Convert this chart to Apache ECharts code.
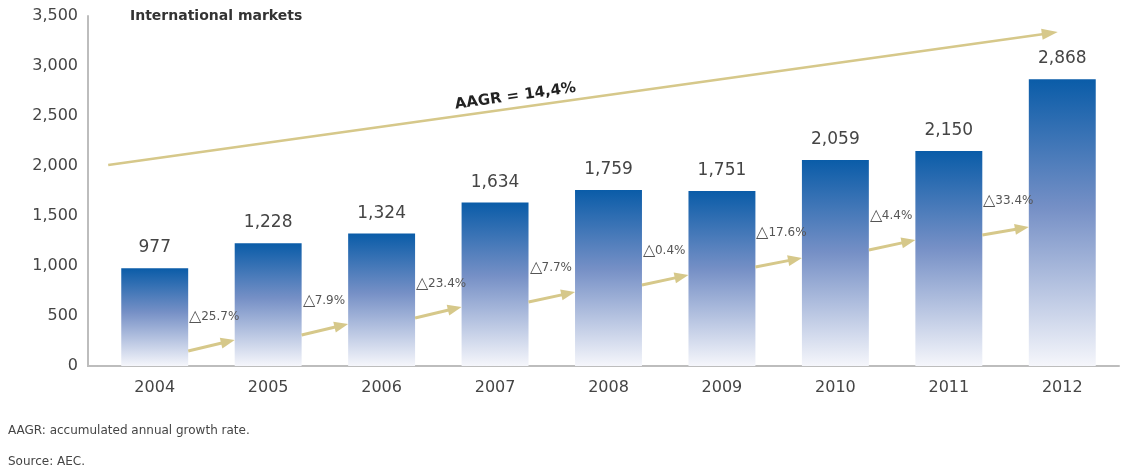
<!DOCTYPE html>
<html>
<head>
<meta charset="utf-8">
<script src="https://cdn.jsdelivr.net/npm/echarts@6/dist/echarts.min.js"></script>
<style>
  html, body { margin: 0; padding: 0; background: #fff; }
  #main { width: 1126px; height: 474px; }
</style>
</head>
<body>
<div id="main"></div>
<script>
// 数据
var years = ['2004', '2005', '2006', '2007', '2008', '2009', '2010', '2011', '2012'];
var markets = [977, 1228, 1324, 1634, 1759, 1751, 2059, 2150, 2868];
var deltaLabels = ['25.7%', '7.9%', '23.4%', '7.7%', '0.4%', '17.6%', '4.4%', '33.4%'];
var arrowFrom = [150, 310, 480, 640, 810, 990, 1160, 1310];   // 小箭头起点高度
var arrowTo = [260, 420, 590, 740, 910, 1080, 1260, 1390];    // 小箭头终点高度
var aagrFrom = 2010, aagrTo = 3340;
var yTicks = [0, 500, 1000, 1500, 2000, 2500, 3000, 3500];

const GOLD = '#d6c88a', TEXT = '#454545', FONT = 'DejaVu Sans';
const LEFT = 98, RIGHT = 7, TOP = 16, BOTTOM = 108, HALF = 0.295;

var chart = echarts.init(document.getElementById('main'));

function fmt(v) { return v.toString().replace(/\B(?=(\d{3})+(?!\d))/g, ','); }

function arrowHead(x1, y1, x2, y2, len, wid)
{
    var a = Math.atan2(y2 - y1, x2 - x1);
    var bx = x2 - len * Math.cos(a), by = y2 - len * Math.sin(a);
    var nx = -Math.sin(a) * wid / 2, ny = Math.cos(a) * wid / 2;
    return [[x2, y2], [bx + nx, by + ny], [bx - nx, by - ny]];
}

var arrowData = arrowFrom.map(function (v, i) { return [i, v, arrowTo[i]]; });

var option = {
    animation: false,
    grid: { left: LEFT, right: RIGHT, top: TOP, bottom: BOTTOM },
    xAxis: {
        type: 'category',
        data: years,
        axisLine: { lineStyle: { color: '#bdbdbd', width: 2 } },
        axisTick: { show: false },
        axisLabel: { color: TEXT, fontSize: 16, fontFamily: FONT, margin: 14 }
    },
    yAxis: {
        type: 'value',
        min: yTicks[0],
        max: yTicks[yTicks.length - 1],
        interval: 500,
        offset: 10,
        axisLine: { show: true, lineStyle: { color: '#bdbdbd', width: 2 } },
        axisTick: { show: false },
        splitLine: { show: false },
        axisLabel: { color: TEXT, fontSize: 16, fontFamily: FONT, margin: 10, formatter: fmt }
    },
    series: [
        {
            type: 'bar',
            data: markets,
            barWidth: '59%',
            itemStyle: {
                color: new echarts.graphic.LinearGradient(0, 0, 0, 1, [
                    { offset: 0, color: '#0a5ca8' },
                    { offset: 0.45, color: '#7690c6' },
                    { offset: 1, color: '#f5f6fb' }
                ])
            },
            label: {
                show: true, position: 'top', distance: 12,
                color: TEXT, fontSize: 17, fontFamily: FONT,
                formatter: function (p) { return fmt(p.value); }
            }
        },
        {
            // 年度增长小箭头
            type: 'custom',
            data: arrowData,
            z: 5,
            renderItem: function (params, api) {
                var i = api.value(0);
                var band = api.size([1, 0])[0];
                var p1 = api.coord([i, api.value(1)]);
                var p2 = api.coord([i + 1, api.value(2)]);
                var x1 = p1[0] + HALF * band, x2 = p2[0] - HALF * band;
                var y1 = p1[1], y2 = p2[1];
                var a = Math.atan2(y2 - y1, x2 - x1);
                var lx = x2 - 10 * Math.cos(a), ly = y2 - 10 * Math.sin(a);
                return {
                    type: 'group',
                    children: [
                        { type: 'line', shape: { x1: x1, y1: y1, x2: lx, y2: ly },
                          style: { stroke: GOLD, lineWidth: 3 } },
                        { type: 'polygon', shape: { points: arrowHead(x1, y1, x2, y2, 14, 11) },
                          style: { fill: GOLD } },
                        { type: 'text', x: x1 + 1, y: y1 - 34,
                          style: { rich: { d: { fontSize: 16, fontFamily: 'Liberation Sans', fill: '#555' },
                                           t: { fontSize: 12, fontFamily: FONT, fill: '#555' } },
                                   text: '{d|△}{t|' + deltaLabels[i] + '}',
                                   verticalAlign: 'middle', align: 'left' } }
                    ]
                };
            }
        },
        {
            // AAGR 趋势箭头
            type: 'custom',
            data: [[0, aagrFrom, 8, aagrTo]],
            z: 5,
            renderItem: function (params, api) {
                var band = api.size([1, 0])[0];
                var p1 = api.coord([api.value(0), api.value(1)]);
                var p2 = api.coord([api.value(2), api.value(3)]);
                var x1 = p1[0] - 0.41 * band, y1 = p1[1];
                var x2 = p2[0] - 0.04 * band, y2 = p2[1];
                var a = Math.atan2(y2 - y1, x2 - x1);
                var lx = x2 - 12 * Math.cos(a), ly = y2 - 12 * Math.sin(a);
                var mx = x1 + 0.43 * (x2 - x1), my = y1 + 0.43 * (y2 - y1);
                return {
                    type: 'group',
                    children: [
                        { type: 'line', shape: { x1: x1, y1: y1, x2: lx, y2: ly },
                          style: { stroke: GOLD, lineWidth: 2.5 } },
                        { type: 'polygon', shape: { points: arrowHead(x1, y1, x2, y2, 16, 11) },
                          style: { fill: GOLD } },
                        { type: 'text', x: mx, y: my - 4, rotation: -a,
                          style: { text: 'AAGR = 14,4%', fontSize: 15, fontWeight: 'bold',
                                   fontFamily: FONT, fill: '#222', align: 'center',
                                   verticalAlign: 'bottom' } }
                    ]
                };
            }
        }
    ],
    graphic: [
        { type: 'line', shape: { x1: LEFT - 11, y1: 474 - BOTTOM, x2: LEFT, y2: 474 - BOTTOM },
          style: { stroke: '#bdbdbd', lineWidth: 2 } },
        { type: 'text', left: 130, top: 9,
          style: { text: 'International markets', fontSize: 14, fontWeight: 'bold',
                   fontFamily: FONT, fill: '#333' } },
        { type: 'text', left: 8, top: 425,
          style: { text: 'AAGR: accumulated annual growth rate.', fontSize: 12,
                   fontFamily: FONT, fill: TEXT } },
        { type: 'text', left: 8, top: 456,
          style: { text: 'Source: AEC.', fontSize: 12, fontFamily: FONT, fill: TEXT } }
    ]
};

chart.setOption(option);
</script>
</body>
</html>
